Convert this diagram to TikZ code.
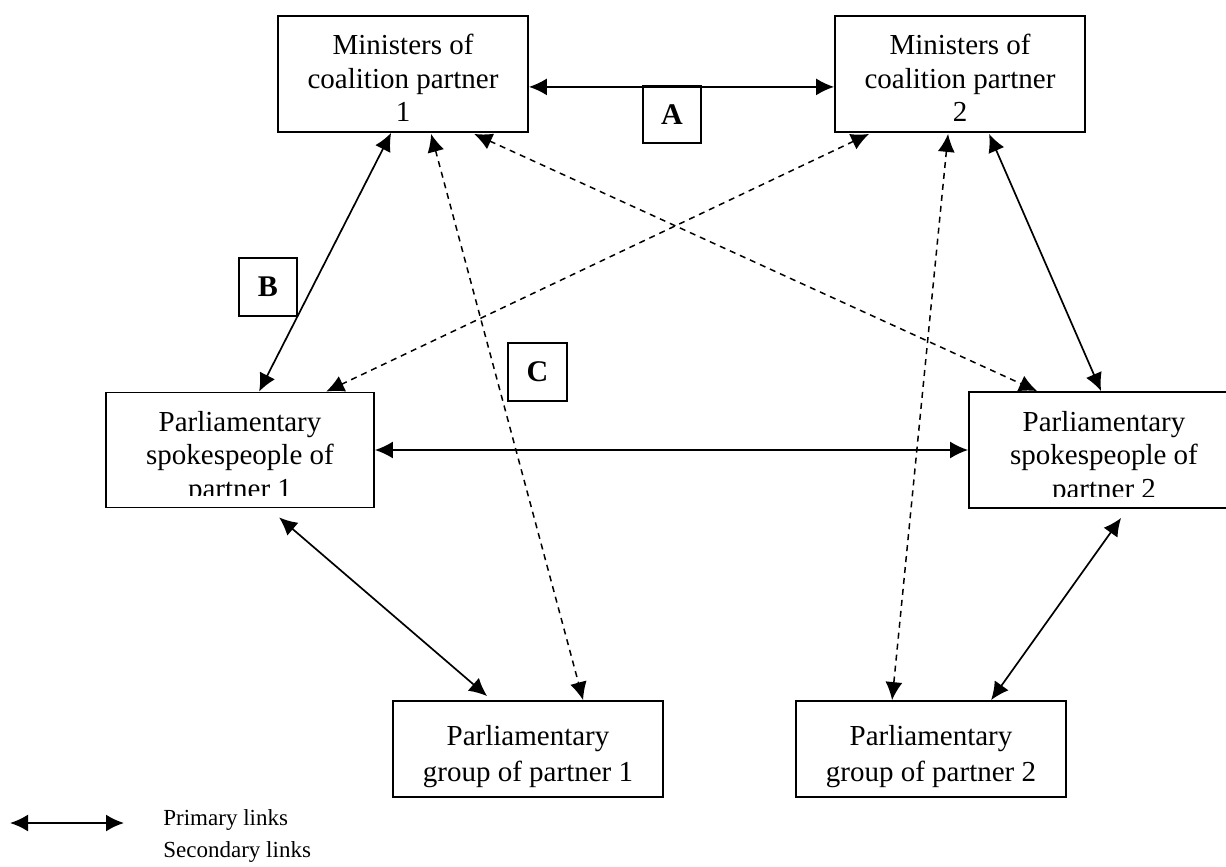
\documentclass[tikz,border=0pt]{standalone}
\usepackage{fontspec}
\setmainfont{Liberation Serif}
\usetikzlibrary{arrows.meta,calc}
\tikzset{
  box/.style={draw, line width=0.9pt, inner sep=0pt},
  lbl/.style={draw, line width=0.8pt, inner sep=0pt, font=\fontsize{15}{16}\selectfont\bfseries},
  txt/.style={inner sep=0pt, align=center, font=\fontsize{14.5}{16.8}\selectfont},
  gtxt/.style={inner sep=0pt, align=center, font=\fontsize{14.5}{18}\selectfont},
  prim/.style={line width=0.85pt, arrows={Latex[length=9pt,width=8.5pt]-Latex[length=9pt,width=8.5pt]}},
  sec/.style={prim, line width=0.75pt, dash pattern=on 3pt off 2.5pt},
  leg/.style={inner sep=0pt, anchor=base west, font=\fontsize{11.5}{13}\selectfont},
}
\begin{document}
\begin{tikzpicture}[x=0.5pt,y=-0.5pt]
\useasboundingbox (0,0) rectangle (1226,867);
% boxes
\node[box, minimum width=125pt, minimum height=58pt] (m1) at (403,74) {};
\node[box, minimum width=125pt, minimum height=58pt] (m2) at (960,74) {};
\node[box, minimum width=134pt, minimum height=57.5pt] (p1) at (240,450) {};
\node[box, minimum width=135pt, minimum height=58pt] (p2) at (1104,450) {};
\node[box, minimum width=135pt, minimum height=48pt] (g1) at (528,749) {};
\node[box, minimum width=135pt, minimum height=48pt] (g2) at (931,749) {};
% texts
\node[txt] (m1t) at (403,78) {Ministers of\\coalition partner\\1};
\node[txt] (m2t) at (960,78) {Ministers of\\coalition partner\\2};
\node[txt] (p1t) at (240,458) {Parliamentary\\spokespeople of\\partner 1};
\node[txt] (p2t) at (1104,458) {Parliamentary\\spokespeople of\\partner 2};
\node[gtxt] (g1t) at (528,757) {Parliamentary\\group of partner 1};
\node[gtxt] (g2t) at (931,757) {Parliamentary\\group of partner 2};
% clipped bottom of the spokespeople texts
\fill[white] ($(p1.south west)+(1.5,-12)$) rectangle ($(p1.south east)+(-1.5,-1.5)$);
\fill[white] ($(p2.south west)+(1.5,-12)$) rectangle ($(p2.south east)+(-1.5,-1.5)$);
% label boxes
\node[lbl, minimum width=29pt, minimum height=28.5pt] (la) at (672,114.5) {A};
\node[lbl, minimum width=29pt, minimum height=29pt] (lb) at (268,287) {B};
\node[lbl, minimum width=29.5pt, minimum height=29pt] (lc) at (537.5,372) {C};
% primary links
\draw[prim] ($(m1.south east)+(0,-46)$) -- ($(m2.south west)+(0,-46)$);
\draw[prim] ($(m1.south west)+(114,0)$) -- ($(p1.north west)+(154,0)$);
\draw[prim] ($(m2.south west)+(155,1)$) -- ($(p2.north west)+(133,0)$);
\draw[prim] (p1.east) -- (p2.west);
\draw[prim] ($(p1.south west)+(174,9)$) -- ($(g1.north west)+(95,-4)$);
\draw[prim] ($(p2.south west)+(153,9)$) -- ($(g2.north west)+(196,0)$);
% secondary links
\draw[sec] ($(m1.south west)+(154,1)$) -- ($(g1.north west)+(191,0)$);
\draw[sec] ($(m1.south west)+(197,1)$) -- ($(p2.north west)+(69,0)$);
\draw[sec] ($(m2.south west)+(35,1)$) -- ($(p1.north west)+(221,0)$);
\draw[sec] ($(m2.south west)+(114,1)$) -- ($(g2.north west)+(97,0)$);
% legend
\coordinate (lgl) at (10,823);
\coordinate (lgr) at (124,823);
\draw[prim, line width=1pt] (lgl) -- (lgr);
\node[leg] (lp) at (163,825) {Primary links};
\node[leg] (ls) at (163,857) {Secondary links};
\end{tikzpicture}
\end{document}
